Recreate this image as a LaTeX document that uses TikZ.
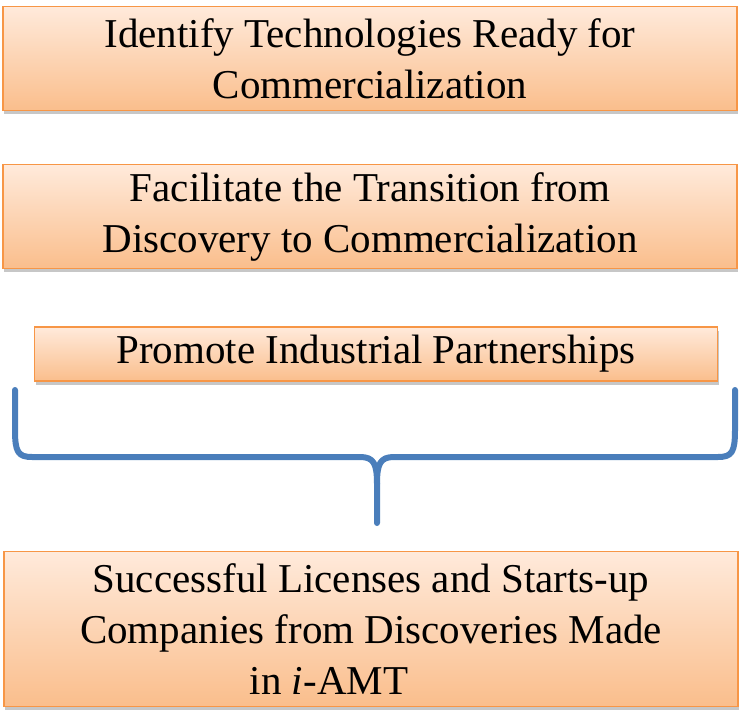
\documentclass[tikz,border=0pt]{standalone}
\usepackage{fontspec}
\setmainfont{Liberation Serif}
\usepackage{tikz}
\usetikzlibrary{shadows}
\definecolor{peachtop}{HTML}{FFEADB}
\definecolor{peachbot}{HTML}{FABE8C}
\definecolor{boxline}{HTML}{F79646}
\definecolor{bracecol}{HTML}{4A7EBB}

\begin{document}
\begin{tikzpicture}[x=1pt,y=-1pt,
  goal/.style={draw=boxline, line width=1.5pt, top color=peachtop, bottom color=peachbot,
    rectangle, inner sep=0pt, align=center,
    font=\fontsize{41}{51}\selectfont,
    drop shadow={shadow xshift=1pt, shadow yshift=-3.5pt, fill=black!22, opacity=1}},
  brace/.style={draw=bracecol, line width=6pt, line cap=round, line join=round}]

\useasboundingbox (0,0) rectangle (741,714);

\node[goal, minimum width=734pt, minimum height=104pt] (ident) at (370,58.5)
  {Identify Technologies Ready for\\Commercialization};

\node[goal, minimum width=734pt, minimum height=104pt] (facil) at (370,216.5)
  {Facilitate the Transition from\\Discovery to Commercialization};

\node[goal, minimum width=683pt, minimum height=54pt] (promo) at (376,354)
  {Promote Industrial Partnerships};

\node[goal, minimum width=734pt, minimum height=155pt] (succ) at (371,629)
  {Successful Licenses and Starts-up\\Companies from Discoveries Made\\
   in \textit{i}-AMT\hspace*{84pt}};

% brace
\draw[brace] (15,390) -- (15,430) .. controls (15,452) and (18,457) .. (32,457)
  -- (360,457) .. controls (374,457) and (377,464) .. (377,484) -- (377,523);
\draw[brace] (735,390) -- (735,430) .. controls (735,452) and (732,457) .. (718,457)
  -- (394,457) .. controls (380,457) and (377,464) .. (377,484);

\end{tikzpicture}
\end{document}
